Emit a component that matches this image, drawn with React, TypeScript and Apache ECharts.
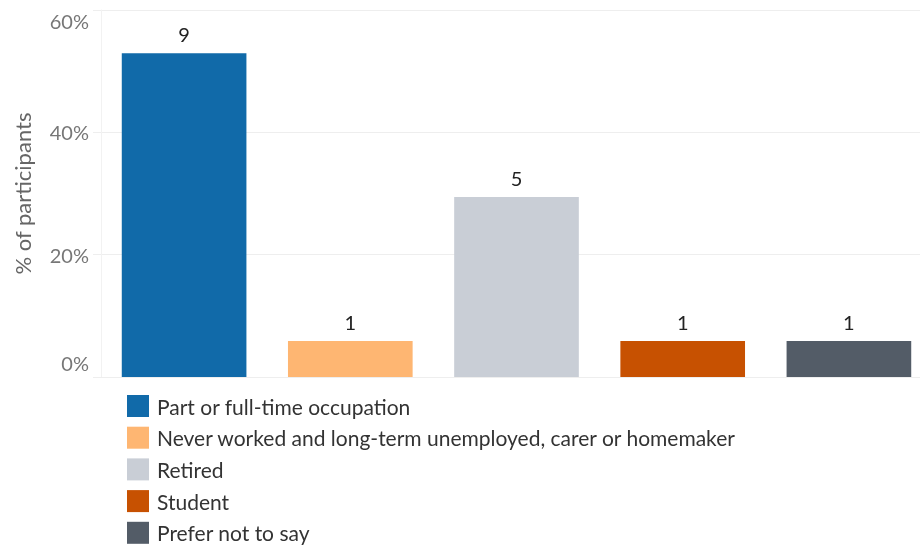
import React, { useEffect, useRef } from "react";
import * as echarts from "echarts";

const categories = [
  "Part or full-time occupation",
  "Never worked and long-term unemployed, carer or homemaker",
  "Retired",
  "Student",
  "Prefer not to say",
];
const counts = [9, 1, 5, 1, 1];
const colors = ["#116AA9", "#FEB672", "#C9CED6", "#C75101", "#535C67"];
const yTicks = [0, 20, 40, 60];

export default function App() {
  const ref = useRef<HTMLDivElement>(null);
  useEffect(() => {
    if (!ref.current) return;
    const chart = echarts.init(ref.current, null, { renderer: "svg" });
    const total = counts.reduce((a, b) => a + b, 0);
    const series = categories.map((name, i) => ({
      name,
      type: "bar",
      barGap: "-100%",
      barCategoryGap: "25%",
      itemStyle: { color: colors[i] },
      label: {
        show: true,
        position: "top",
        distance: 9,
        color: "#222",
        fontSize: 20,
        fontFamily: "Lato",
        formatter: () => String(counts[i]),
      },
      data: categories.map((_, j) => (j === i ? (counts[i] / total) * 100 : null)),
    }));
    const yMin = yTicks[0];
    const yMax = yTicks[yTicks.length - 1];
    chart.setOption({
      animation: false,
      textStyle: { fontFamily: "Lato" },
      grid: { left: 101, top: 10, height: 367, width: 831 },
      legend: {
        orient: "vertical",
        left: 127,
        top: 395,
        padding: 0,
        itemWidth: 22,
        itemHeight: 22,
        itemGap: 9.7,
        icon: "rect",
        textStyle: {
          fontSize: 21,
          lineHeight: 22,
          color: "#333",
          fontFamily: "Lato",
          padding: [0, 0, 0, 3],
        },
        data: categories,
      },
      xAxis: {
        type: "category",
        data: categories,
        axisLabel: { show: false },
        axisTick: { show: false },
        axisLine: { show: true, lineStyle: { color: "#eeeeee" } },
        splitLine: { show: false },
      },
      yAxis: {
        type: "value",
        min: yMin,
        max: yMax,
        interval: 20,
        name: "% of participants",
        nameLocation: "middle",
        nameGap: 68,
        nameTextStyle: { fontSize: 22, color: "#666", fontFamily: "Lato" },
        axisLabel: {
          fontSize: 20,
          color: "#777",
          margin: 12,
          fontFamily: "Lato",
          formatter: (v: number) =>
            v === yMax ? `{top|${v}%}` : v === yMin ? `{bot|${v}%}` : `${v}%`,
          rich: {
            top: { fontSize: 20, color: "#777", fontFamily: "Lato", padding: [22, 0, 0, 0] },
            bot: { fontSize: 20, color: "#777", fontFamily: "Lato", padding: [0, 0, 28, 0] },
          },
        },
        axisLine: { show: true, lineStyle: { color: "#f2f2f2" } },
        axisTick: { show: true, length: 8, lineStyle: { color: "#eeeeee" } },
        splitLine: { show: true, lineStyle: { color: "#eeeeee" } },
      },
      series,
    });
    return () => chart.dispose();
  }, []);
  return (
    <div
      ref={ref}
      style={{ position: "fixed", left: 0, top: 0, width: 940, height: 547 }}
    />
  );
}
